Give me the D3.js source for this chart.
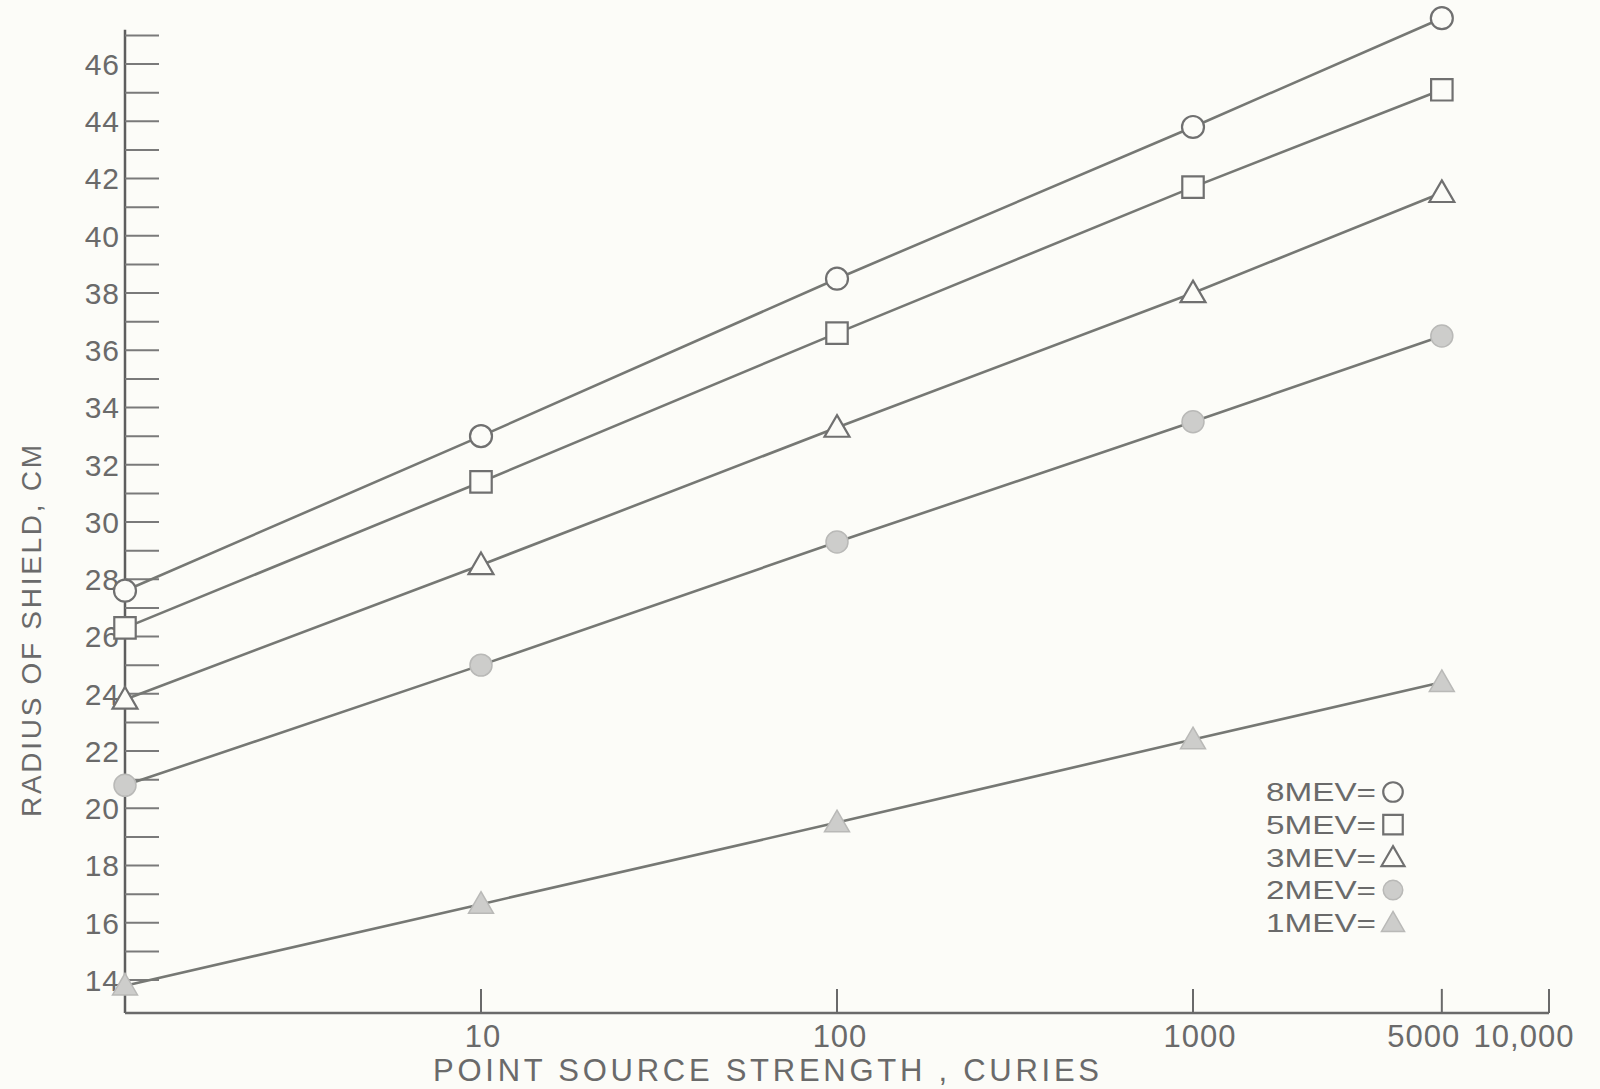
<!DOCTYPE html>
<html>
<head>
<meta charset="utf-8">
<script src="https://cdn.jsdelivr.net/npm/d3@7"></script>
<style>
  html, body { margin: 0; padding: 0; background: #fcfcf8; }
  svg { display: block; }
  text { font-family: "Liberation Sans", "DejaVu Sans", sans-serif; fill: #6a6a6a; }
</style>
</head>
<body>
<svg id="chart" width="1600" height="1089"></svg>
<script>
// ---- data ----
const sourceStrength = [1, 10, 100, 1000, 5000];
const mev8 = [27.6, 33.0, 38.5, 43.8, 47.6];
const mev5 = [26.3, 31.4, 36.6, 41.7, 45.1];
const mev3 = [23.8, 28.5, 33.3, 38.0, 41.5];
const mev2 = [20.8, 25.0, 29.3, 33.5, 36.5];
const mev1 = [13.8, 16.65, 19.5, 22.4, 24.4];
const seriesNames = ["8MEV", "5MEV", "3MEV", "2MEV", "1MEV"];
const xTickValues = [10, 100, 1000, 5000, 10000];
const xTickLabels = ["10", "100", "1000", "5000", "10,000"];
const yMinorTicks = d3.range(14, 48, 1);
const yLabelTicks = d3.range(14, 47, 2);
const xTitle = "POINT   SOURCE   STRENGTH  ,  CURIES";
const yTitle = "RADIUS OF  SHIELD,   CM";

const series = [
  { name: seriesNames[0], values: mev8, shape: "circle",   filled: false },
  { name: seriesNames[1], values: mev5, shape: "square",   filled: false },
  { name: seriesNames[2], values: mev3, shape: "triangle", filled: false },
  { name: seriesNames[3], values: mev2, shape: "circle",   filled: true },
  { name: seriesNames[4], values: mev1, shape: "triangle", filled: true }
];

// ---- layout ----
const svg = d3.select("#chart");
const bg = "#fcfcf8";
const ink = "#767874";
const fillGray = "#cdcdcb";

const x = d3.scaleLog().domain([1, 10000]).range([125, 1549]);
const y = d3.scaleLinear().domain([14, 46]).range([980, 64]);
const yAxisTop = 47.2, yAxisBottom = 12.85;

svg.append("rect").attr("width", 1600).attr("height", 1089).attr("fill", bg);

// Y axis
const gy = svg.append("g").attr("transform", `translate(${x(1)},0)`);
gy.append("line")
  .attr("x1", 0).attr("x2", 0)
  .attr("y1", y(yAxisTop)).attr("y2", y(yAxisBottom))
  .attr("stroke", "#5e5e5e").attr("stroke-width", 2.5);
gy.selectAll("line.tick").data(yMinorTicks).join("line")
  .attr("class", "tick")
  .attr("x1", 0).attr("x2", 34)
  .attr("y1", d => y(d)).attr("y2", d => y(d))
  .attr("stroke", "#7a7a7a").attr("stroke-width", 2);
gy.selectAll("text").data(yLabelTicks).join("text")
  .attr("x", -5).attr("y", d => y(d))
  .attr("dy", "0.36em")
  .attr("text-anchor", "end")
  .attr("font-size", 30)
  .attr("letter-spacing", 1)
  .text(d => d);

// X axis
const gx = svg.append("g").attr("transform", `translate(0,${y(yAxisBottom)})`);
gx.append("line")
  .attr("x1", x(1)).attr("x2", x(10000))
  .attr("y1", 0).attr("y2", 0)
  .attr("stroke", "#6a6a6a").attr("stroke-width", 2.5);
gx.selectAll("line.tick").data(xTickValues).join("line")
  .attr("class", "tick")
  .attr("x1", d => x(d)).attr("x2", d => x(d))
  .attr("y1", 0).attr("y2", -24)
  .attr("stroke", "#6a6a6a").attr("stroke-width", 2);
const xLabelOffsets = [2, 3, 7, -18, -25];
gx.selectAll("text").data(xTickValues).join("text")
  .attr("x", (d, i) => x(d) + xLabelOffsets[i])
  .attr("y", 34)
  .attr("text-anchor", "middle")
  .attr("font-size", 31)
  .attr("letter-spacing", 1)
  .text((d, i) => xTickLabels[i]);

// Axis titles
svg.append("text")
  .attr("x", 766).attr("y", 1081)
  .attr("text-anchor", "middle")
  .attr("font-size", 31)
  .attr("textLength", 666)
  .attr("lengthAdjust", "spacing")
  .text(xTitle);

svg.append("text")
  .attr("transform", `translate(41,631) rotate(-90)`)
  .attr("text-anchor", "middle")
  .attr("font-size", 28)
  .attr("textLength", 372)
  .attr("lengthAdjust", "spacing")
  .text(yTitle);

// Marker builder
function markerPath(shape) {
  if (shape === "circle") return d3.symbol(d3.symbolCircle, 380)();
  if (shape === "square") return d3.symbol(d3.symbolSquare, 460)();
  return d3.symbol(d3.symbolTriangle, 270)();
}

const line = d3.line()
  .x((d, i) => x(sourceStrength[i]))
  .y(d => y(d));

// Lines
svg.append("g").selectAll("path").data(series).join("path")
  .attr("d", s => line(s.values))
  .attr("fill", "none")
  .attr("stroke", ink)
  .attr("stroke-width", 2.6);

// Markers
series.forEach(s => {
  svg.append("g").selectAll("path").data(s.values).join("path")
    .attr("transform", (d, i) => `translate(${x(sourceStrength[i])},${y(d) + (s.shape === "triangle" ? 2 : 0)})`)
    .attr("d", markerPath(s.shape))
    .attr("fill", s.filled ? fillGray : bg)
    .attr("stroke", s.filled ? "#b9b9b7" : "#707070")
    .attr("stroke-width", s.filled ? 1.5 : 2.2);
});

// Legend
const legend = svg.append("g").attr("transform", "translate(1266,792)");
const rows = legend.selectAll("g").data(series).join("g")
  .attr("transform", (d, i) => `translate(0,${i * 32.7})`);
rows.append("text")
  .attr("x", 0).attr("y", 0)
  .attr("dy", "0.36em")
  .attr("font-size", 26)
  .attr("textLength", 110)
  .attr("lengthAdjust", "spacingAndGlyphs")
  .text(d => d.name + "=");
rows.append("path")
  .attr("transform", d => `translate(127,${d.shape === "triangle" ? 2 : 0})`)
  .attr("d", d => d.shape === "circle" ? d3.symbol(d3.symbolCircle, 300)()
                 : d.shape === "square" ? d3.symbol(d3.symbolSquare, 380)()
                 : d3.symbol(d3.symbolTriangle, 230)())
  .attr("fill", d => d.filled ? fillGray : "none")
  .attr("stroke", d => d.filled ? "#b9b9b7" : "#707070")
  .attr("stroke-width", d => d.filled ? 1.5 : 2.2);
</script>
</body>
</html>
